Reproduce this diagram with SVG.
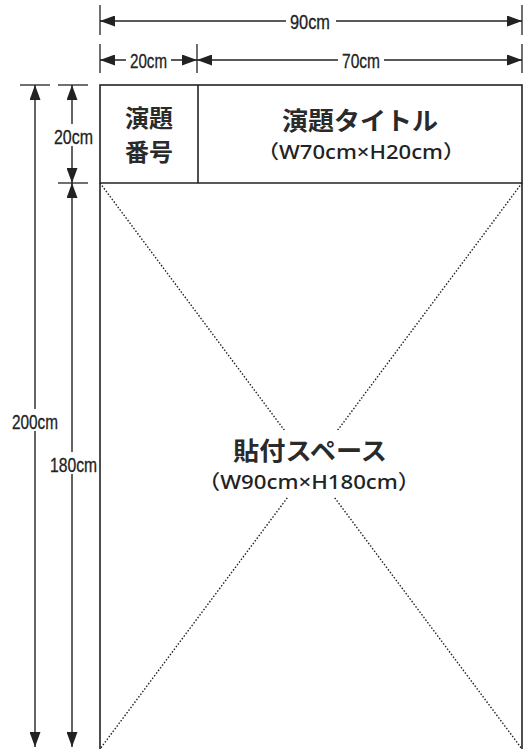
<svg xmlns="http://www.w3.org/2000/svg" width="526" height="749" viewBox="0 0 526 749">
<style>
.ln{stroke:#222;stroke-width:1.4;fill:none}
.tk{stroke:#222;stroke-width:1.3;fill:none}
.ah{fill:#222}
.dim{font-family:"Liberation Sans",Arial,sans-serif;font-size:20px;fill:#222;stroke:#222;stroke-width:0.3}
.jp{font-family:"Noto Sans CJK JP","Noto Sans",sans-serif;font-weight:bold;fill:#2a2a2a}
.en{font-family:"Noto Sans","Noto Sans CJK JP",sans-serif;font-weight:500;fill:#222}
.diag{stroke:#222;stroke-width:1.4;stroke-dasharray:1.5 1.8;fill:none}
</style>
<defs>
<marker id="arr" viewBox="0 0 15 11" refX="15" refY="5.5" markerWidth="15" markerHeight="11" markerUnits="userSpaceOnUse" orient="auto-start-reverse">
<path d="M0,0 L15,5.5 L0,11 Z" class="ah"/>
</marker>
</defs>
<rect width="526" height="749" fill="#fff"/>
<g id="board">
<rect x="100" y="85" width="422" height="680" fill="none" stroke="#222" stroke-width="1.6"/>
<line x1="100" y1="183" x2="522" y2="183" stroke="#222" stroke-width="1.6"/>
<line x1="198" y1="85" x2="198" y2="183" stroke="#222" stroke-width="1.6"/>
</g>
<g id="diagonals">
<line class="diag" x1="100" y1="183" x2="522" y2="749"/>
<line class="diag" x1="522" y1="183" x2="100" y2="749"/>
</g>
<g id="connectors">
<line class="tk" x1="100" y1="5" x2="100" y2="35"/>
<line class="tk" x1="522" y1="5" x2="522" y2="35"/>
<line class="tk" x1="100" y1="44" x2="100" y2="73"/>
<line class="tk" x1="197" y1="44" x2="197" y2="73"/>
<line class="tk" x1="522" y1="44" x2="522" y2="73"/>
<line class="ln" x1="100" y1="21" x2="522" y2="21" marker-start="url(#arr)" marker-end="url(#arr)"/>
<line class="ln" x1="100" y1="60" x2="197" y2="60" marker-start="url(#arr)" marker-end="url(#arr)"/>
<line class="ln" x1="197" y1="60" x2="522" y2="60" marker-start="url(#arr)" marker-end="url(#arr)"/>
<line class="tk" x1="20" y1="85" x2="50" y2="85"/>
<line class="tk" x1="58" y1="85" x2="88" y2="85"/>
<line class="tk" x1="58" y1="183" x2="88" y2="183"/>
<line class="ln" x1="35" y1="85" x2="35" y2="747" marker-start="url(#arr)" marker-end="url(#arr)"/>
<line class="ln" x1="72" y1="85" x2="72" y2="183" marker-start="url(#arr)" marker-end="url(#arr)"/>
<line class="ln" x1="72" y1="183" x2="72" y2="747" marker-start="url(#arr)" marker-end="url(#arr)"/>
</g>
<g id="dim-labels">
<rect x="286" y="11" width="50" height="20" fill="#fff"/>
<text class="dim" x="290" y="28.5" textLength="40" lengthAdjust="spacingAndGlyphs">90cm</text>
<rect x="126" y="50" width="45" height="20" fill="#fff"/>
<text class="dim" x="130" y="67.5" textLength="37" lengthAdjust="spacingAndGlyphs">20cm</text>
<rect x="338" y="50" width="46" height="20" fill="#fff"/>
<text class="dim" x="342" y="67.5" textLength="38" lengthAdjust="spacingAndGlyphs">70cm</text>
<rect x="10" y="409" width="50" height="22" fill="#fff"/>
<text class="dim" x="12" y="428.5" textLength="46" lengthAdjust="spacingAndGlyphs">200cm</text>
<rect x="49" y="452" width="50" height="22" fill="#fff"/>
<text class="dim" x="50" y="471.5" textLength="47" lengthAdjust="spacingAndGlyphs">180cm</text>
<rect x="53" y="124" width="42" height="22" fill="#fff"/>
<text class="dim" x="54" y="143.5" textLength="39" lengthAdjust="spacingAndGlyphs">20cm</text>
</g>
<g id="number-cell">
<text class="jp" x="149" y="127" font-size="24" text-anchor="middle">演題</text>
<text class="jp" x="149" y="161" font-size="24" text-anchor="middle">番号</text>
</g>
<g id="title-cell">
<text class="jp" x="282" y="130" font-size="25" textLength="156" lengthAdjust="spacingAndGlyphs">演題タイトル</text>
<text class="en" x="257" y="159" font-size="19" textLength="208" lengthAdjust="spacingAndGlyphs">（W70cm×H20cm）</text>
</g>
<g id="paste-space">
<rect x="192" y="430" width="238" height="67" fill="#fff"/>
<text class="jp" x="233" y="460" font-size="25" textLength="154" lengthAdjust="spacingAndGlyphs">貼付スペース</text>
<text class="en" x="198" y="489" font-size="20" textLength="222" lengthAdjust="spacingAndGlyphs">（W90cm×H180cm）</text>
</g>
</svg>
